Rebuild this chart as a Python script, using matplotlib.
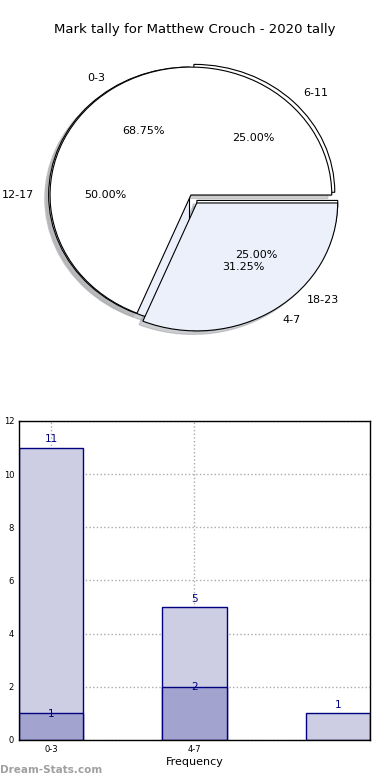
import matplotlib
matplotlib.use('Agg')
import matplotlib.pyplot as plt
import numpy as np

# data
title = 'Mark tally for Matthew Crouch - 2020 tally'
pie_a_labels = ['0-3', '4-7']
pie_a_values = [11, 5]
pie_b_labels = ['6-11', '12-17', '18-23']
pie_b_values = [1, 2, 1]

bar_labels = ['0-3', '4-7', '']
bar_back = [11, 5, 1]
bar_front = [1, 2]

pie_colors = ['white', '#EBF0FB']
back_color = '#CDCDE4'
front_color = '#A3A3D0'
edge_color = '#000080'

fig = plt.figure(figsize=(3.9, 7.8), dpi=100)

# ---- pie (two pies drawn over each other)
ax1 = fig.add_axes([0.038, 0.545, 0.903, 0.41])
txt_kw = dict(fontsize=8)
shadow_kw = dict(ox=-0.02, oy=-0.02, shade=0.35)
ax1.pie(pie_b_values, labels=pie_b_labels, colors=[pie_colors[0], pie_colors[1], pie_colors[0]],
        explode=(0.03, 0.01, 0.06), autopct='%1.2f%%', shadow=shadow_kw,
        wedgeprops=dict(edgecolor='black', linewidth=0.8), textprops=txt_kw)
ax1.pie(pie_a_values, labels=pie_a_labels, colors=pie_colors,
        explode=(0, 0.075), autopct='%1.2f%%', shadow=shadow_kw,
        wedgeprops=dict(edgecolor='black', linewidth=0.8), textprops=txt_kw)
ax1.set_aspect('auto')
ax1.set_xlim(-1.25, 1.25)
ax1.set_ylim(-1.25, 1.25)
fig.text(0.5, 1 - 30 / 780, title, ha='center', va='center', fontsize=9.5)

# ---- bars
ax2 = fig.add_axes([0.0487, 0.0513, 0.9, 0.409])
x = np.arange(len(bar_back))
w = 0.45
b1 = ax2.bar(x, bar_back, w, color=back_color, edgecolor=edge_color, linewidth=1, zorder=2)
b2 = ax2.bar(x[:len(bar_front)], bar_front, w, color=front_color, edgecolor=edge_color,
             linewidth=1, zorder=3)
for rect, v in zip(b1, bar_back):
    ax2.text(rect.get_x() + w / 2, v + 0.12, str(v), ha='center', va='bottom',
             color=edge_color, fontsize=7.5, zorder=5)
for rect, v in zip(b2, bar_front):
    ax2.text(rect.get_x() + w / 2, v - 0.2, str(v), ha='center', va='bottom',
             color=edge_color, fontsize=7.5, zorder=5)

ax2.set_xlim(-w / 2, 2 + w / 2)
ax2.set_ylim(0, 12)
ax2.set_yticks(range(0, 13, 2))
ax2.set_xticks(x[:2])
ax2.set_xticklabels(bar_labels[:2])
ax2.tick_params(axis='both', labelsize=6, direction='in', length=3, color='#bbbbbb')
ax2.grid(True, linestyle=':', color='#aaaaaa', linewidth=1, zorder=0)
ax2.set_axisbelow(True)
for s in ax2.spines.values():
    s.set_linewidth(1)
    s.set_zorder(6)
ax2.set_xlabel('Frequency', fontsize=8, labelpad=2)
ax2.set_ylabel('Student Total', fontsize=8)
ax2.yaxis.set_label_coords(-0.06, 0.5)

fig.text(0.0, 5 / 780, 'Dream-Stats.com', color='#a0a0a0', fontsize=7.5,
         fontweight='bold', ha='left', va='bottom')

fig.savefig('out.png', dpi=100)
